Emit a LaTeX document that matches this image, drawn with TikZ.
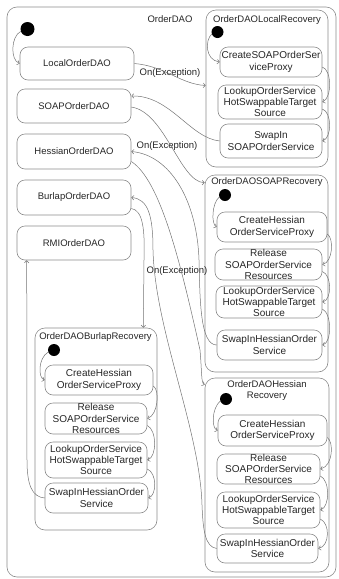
\documentclass[tikz,border=0pt]{standalone}
\usepackage{fontspec}
\setmainfont{Liberation Sans}
\usetikzlibrary{arrows.meta}
\begin{document}
\begin{tikzpicture}[x=1pt,y=-1pt,
  every node/.style={font=\fontsize{9.5}{11.3}\selectfont, text=black!85, inner sep=0pt},
  statebox/.style={draw=black!45, line width=0.6pt, rounded corners=8pt, align=center},
  substate/.style={statebox, font=\fontsize{10}{11.3}\selectfont},
  compbox/.style={draw=black!45, line width=0.6pt, rounded corners=10pt},
  title/.style={align=center},
  initdot/.style={circle, fill=black, minimum size=#1},
  initdot/.default=12pt,
  flow/.style={draw=black!55, line width=0.5pt, -{Straight Barb[length=2.2pt,width=4.5pt]}},
  elabel/.style={}
]
\useasboundingbox (0,0) rectangle (338,579);

% composite states
\node[compbox, minimum width=329pt, minimum height=570pt] (orderdao) at (171.5,292) {};
\node[compbox, minimum width=122pt, minimum height=157pt] (locrec) at (267,88.5) {};
\node[compbox, minimum width=123pt, minimum height=197pt] (soaprec) at (266.5,273.5) {};
\node[compbox, minimum width=124pt, minimum height=194pt] (hrec) at (267,475) {};
\node[compbox, minimum width=122pt, minimum height=202pt] (brec) at (96,429) {};

% titles
\node[title] (orderdaot) at (170,19) {OrderDAO};
\node[title] (locrect) at (267,20) {OrderDAOLocalRecovery};
\node[title] (soaprect) at (267,182) {OrderDAOSOAPRecovery};
\node[title] (hrect) at (267,390.5) {OrderDAOHessian\\Recovery};
\node[title] (brect) at (95.5,337) {OrderDAOBurlapRecovery};

% initial pseudo-states
\node[initdot=14pt] (d0) at (27.5,29) {};
\node[initdot] (ld) at (217.5,32) {};
\node[initdot] (sd) at (225,195) {};
\node[initdot] (hd) at (226,399) {};
\node[initdot] (bd) at (54,350) {};

% top-level states
\node[statebox, minimum width=114pt, minimum height=33pt] (local) at (77,63.5) {LocalOrderDAO};
\node[statebox, minimum width=114pt, minimum height=34pt] (soap) at (74,106) {SOAPOrderDAO};
\node[statebox, minimum width=114pt, minimum height=35pt] (hessian) at (74,151.5) {HessianOrderDAO};
\node[statebox, minimum width=114pt, minimum height=35pt] (burlap) at (74,197.5) {BurlapOrderDAO};
\node[statebox, minimum width=114pt, minimum height=34pt] (rmi) at (74,243) {RMIOrderDAO};

% local recovery
\node[substate, minimum width=102pt, minimum height=30pt] (lcreate) at (271,62) {CreateSOAPOrderSer\\viceProxy};
\node[substate, minimum width=104pt, minimum height=34pt] (llookup) at (270,102) {LookupOrderService\\HotSwappableTarget\\Source};
\node[substate, minimum width=102pt, minimum height=34pt] (lswap) at (271,141) {SwapIn\\SOAPOrderService};

% SOAP recovery
\node[substate, minimum width=110pt, minimum height=30pt] (screate) at (272,227) {CreateHessian\\OrderServiceProxy};
\node[substate, minimum width=107pt, minimum height=31pt] (srelease) at (268.5,264.5) {Release\\SOAPOrderService\\Resources};
\node[substate, minimum width=106pt, minimum height=32pt] (slookup) at (269,302) {LookupOrderService\\HotSwappableTarget\\Source};
\node[substate, minimum width=105pt, minimum height=30pt] (sswap) at (269.5,345) {SwapInHessianOrder\\Service};

% Hessian recovery
\node[substate, minimum width=109pt, minimum height=31pt] (hcreate) at (272.5,430.5) {CreateHessian\\OrderServiceProxy};
\node[substate, minimum width=103pt, minimum height=30pt] (hrelease) at (268.5,469) {Release\\SOAPOrderService\\Resources};
\node[substate, minimum width=103pt, minimum height=36pt] (hlookup) at (268.5,510) {LookupOrderService\\HotSwappableTarget\\Source};
\node[substate, minimum width=101pt, minimum height=29pt] (hswap) at (267.5,548.5) {SwapInHessianOrder\\Service};

% Burlap recovery
\node[substate, minimum width=108pt, minimum height=30pt] (bcreate) at (99,380) {CreateHessian\\OrderServiceProxy};
\node[substate, minimum width=102pt, minimum height=31pt] (brelease) at (96,418.5) {Release\\SOAPOrderService\\Resources};
\node[substate, minimum width=102pt, minimum height=36pt] (blookup) at (96,460) {LookupOrderService\\HotSwappableTarget\\Source};
\node[substate, minimum width=103pt, minimum height=30pt] (bswap) at (96.5,498) {SwapInHessianOrder\\Service};

% transition labels
\node[elabel] (exc1) at (170,73) {On(Exception)};
\node[elabel] (exc2) at (167,146) {On(Exception)};
\node[elabel] (exc3) at (177,271.5) {On(Exception)};

% top-level transitions
\draw[flow] (d0.200) .. controls (11,36) and (10,60) .. (local.west);
\draw[flow] (local.east) .. controls (165,66) and (180,84) .. ([yshift=3pt]locrec.west);
\draw[flow] (lswap.west) .. controls (190,138) and (170,95) .. ([yshift=10pt]soap.east);
\draw[flow] ([yshift=-1pt]soap.east) .. controls (165,112) and (180,182) .. ([yshift=-8pt]soaprec.north west);
\draw[flow] (sswap.west) .. controls (200,345) and (200,300) .. (199,260)
  .. controls (197,200) and (170,155) .. (hessian.east);
\draw[flow] ([yshift=-10pt]hessian.east) .. controls (160,180) and (180,260) .. (200,350)
  .. controls (202,372) and (201,383) .. ([yshift=-7pt]hrec.north west);
\draw[flow] (hswap.west) .. controls (205,547) and (203,530) .. (202,505)
  .. controls (200,430) and (155,330) .. (153,250)
  .. controls (153,215) and (148,199) .. (burlap.east);
\draw[flow] ([yshift=-11pt]burlap.east) .. controls (143,210) and (145,230) .. (144,260)
  -- ([xshift=-14pt]brec.north east);
\draw[flow] (bswap.west) .. controls (32,497) and (27,485) .. (27,460)
  -- ([xshift=10pt]rmi.south west);

% local recovery sequence
\draw[flow] (ld.200) .. controls (205,40) and (205,60) .. (lcreate.west);
\draw[flow] ([yshift=-5pt]lcreate.east) .. controls (332,70) and (332,98) .. (llookup.east);
\draw[flow] ([yshift=-7pt]llookup.east) .. controls (332,112) and (332,138) .. (lswap.east);

% SOAP recovery sequence
\draw[flow] (sd.200) .. controls (212,203) and (211,224) .. (screate.west);
\draw[flow] ([yshift=-7pt]screate.east) .. controls (334,238) and (333,262) .. (srelease.east);
\draw[flow] ([yshift=-7pt]srelease.east) .. controls (332,275) and (332,300) .. (slookup.east);
\draw[flow] ([yshift=-7pt]slookup.east) .. controls (332,313) and (332,343) .. (sswap.east);

% Hessian recovery sequence
\draw[flow] (hd.200) .. controls (212,408) and (211,428) .. (hcreate.west);
\draw[flow] ([yshift=-7pt]hcreate.east) .. controls (334,442) and (333,466) .. (hrelease.east);
\draw[flow] ([yshift=-7pt]hrelease.east) .. controls (330,480) and (330,507) .. (hlookup.east);
\draw[flow] ([yshift=-9pt]hlookup.east) .. controls (330,523) and (330,546) .. (hswap.east);

% Burlap recovery sequence
\draw[flow] (bd.200) .. controls (38,358) and (38,378) .. (bcreate.west);
\draw[flow] ([yshift=-6pt]bcreate.east) .. controls (160,390) and (158,415) .. (brelease.east);
\draw[flow] ([yshift=-7pt]brelease.east) .. controls (157,430) and (157,457) .. (blookup.east);
\draw[flow] ([yshift=-9pt]blookup.east) .. controls (157,473) and (157,495) .. (bswap.east);
\end{tikzpicture}
\end{document}
